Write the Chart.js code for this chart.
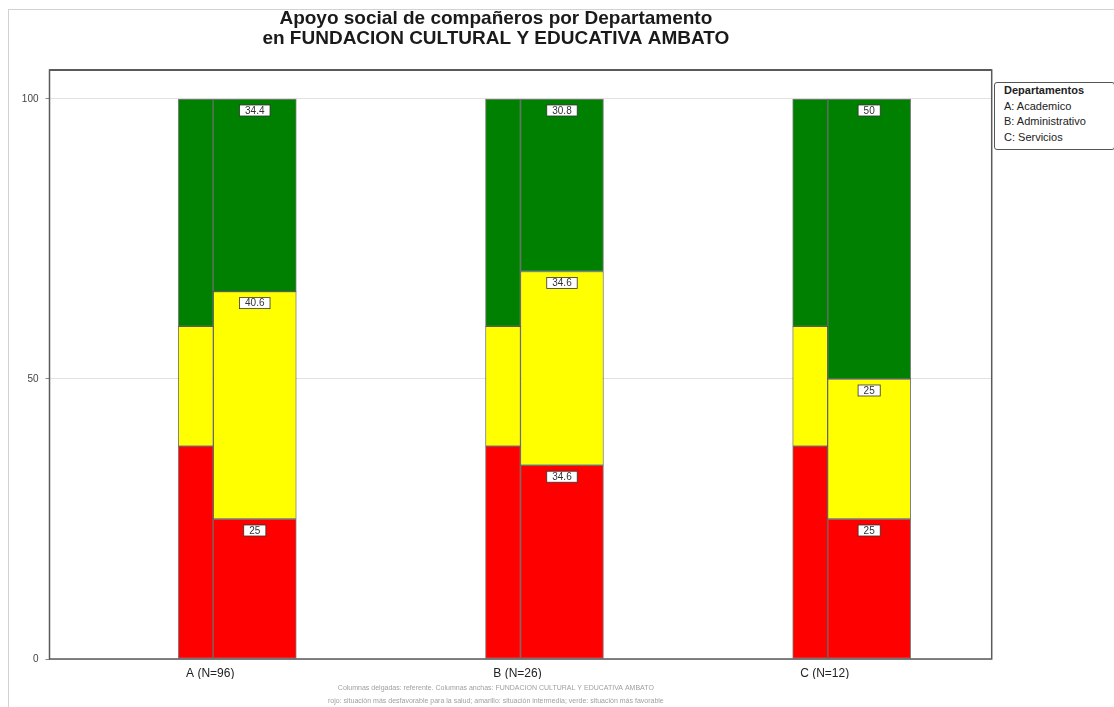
<!DOCTYPE html>
<html>
<head>
<meta charset="utf-8">
<script src="https://cdn.jsdelivr.net/npm/chart.js@4"></script>
<style>
  html, body { margin: 0; padding: 0; background: #fff; }
  body { width: 1114px; height: 707px; position: relative; overflow: hidden; font-family: "Liberation Sans", Arial, sans-serif; }
  #frame { position: absolute; left: 8px; top: 9px; width: 1200px; height: 800px; border-left: 1px solid #d2d2d2; border-top: 1px solid #d2d2d2; }
  #wrap { position: absolute; left: 0; top: 0; width: 996px; height: 707px; }
  #legend { position: absolute; left: 994px; top: 82px; width: 110px; height: 66px; border: 1px solid #555; border-radius: 3px; background: #fff; padding: 0 0 0 9px; font-size: 11px; line-height: 15.5px; color: #222; }
  #legend .t { font-weight: bold; }
</style>
</head>
<body>
<div id="frame"></div>
<div id="wrap"><canvas id="c" width="996" height="707"></canvas></div>
<div id="legend">
  <div class="t">Departamentos</div>
  <div>A: Academico</div>
  <div>B: Administrativo</div>
  <div>C: Servicios</div>
</div>
<script>
// ---- data ----
const categories = ['A (N=96)', 'B (N=26)', 'C (N=12)'];
const refRed    = [38, 38, 38];
const refYellow = [21.4, 21.4, 21.4];
const refGreen  = [40.6, 40.6, 40.6];
const deptRed    = [25, 34.6, 25];
const deptYellow = [40.6, 34.6, 25];
const deptGreen  = [34.4, 30.8, 50];
const yTicks = [0, 50, 100];
const titleLines = ['Apoyo social de compañeros por Departamento', 'en FUNDACION CULTURAL Y EDUCATIVA AMBATO'];
const noteLines = [
  'Columnas delgadas: referente. Columnas anchas: FUNDACION CULTURAL Y EDUCATIVA AMBATO',
  'rojo: situación más desfavorable para la salud; amarillo: situación intermedia; verde: situación más favorable'
];

Chart.defaults.font.family = '"Liberation Sans", Arial, sans-serif';

const toPts = arr => arr.map((v, i) => ({ x: i + 1, y: v }));
const RED = '#ff0000', YEL = '#ffff00', GRN = '#008000';
const bw = 1, bc = 'rgba(0,0,0,0.5)';

function ds(label, arr, color, stack, thick) {
  return { label, data: toPts(arr), backgroundColor: color, borderColor: bc, borderWidth: bw,
           stack, barThickness: thick, borderSkipped: false };
}

const datasets = [
  ds('ref-red', refRed, RED, 'ref', 35),
  ds('ref-yellow', refYellow, YEL, 'ref', 35),
  ds('ref-green', refGreen, GRN, 'ref', 35),
  ds('dept-red', deptRed, RED, 'dept', 83),
  ds('dept-yellow', deptYellow, YEL, 'dept', 83),
  ds('dept-green', deptGreen, GRN, 'dept', 83)
];

const framePlugin = {
  id: 'frame',
  afterDatasetsDraw(chart) {
    const a = chart.chartArea, ctx = chart.ctx;
    ctx.save();
    ctx.strokeStyle = '#5a5a5a';
    ctx.lineWidth = 1.5;
    ctx.strokeRect(a.left, a.top, a.right - a.left, a.bottom - a.top);
    ctx.lineWidth = 2;
    ctx.beginPath(); ctx.moveTo(a.left, a.top); ctx.lineTo(a.right, a.top); ctx.stroke();
    ctx.restore();
  }
};

const valueLabels = {
  id: 'valueLabels',
  afterDatasetsDraw(chart) {
    const ctx = chart.ctx;
    ctx.save();
    ctx.font = '10px "Liberation Sans", Arial, sans-serif';
    ctx.textAlign = 'center';
    ctx.textBaseline = 'middle';
    chart.data.datasets.forEach((d, di) => {
      if (d.stack !== 'dept') return;
      const meta = chart.getDatasetMeta(di);
      meta.data.forEach((el, i) => {
        const txt = String(d.data[i].y);
        const w = ctx.measureText(txt).width + 11, h = 11;
        const cx = el.x, cy = el.y + 11.5;
        ctx.fillStyle = '#fff';
        ctx.fillRect(cx - w / 2, cy - h / 2, w, h);
        ctx.strokeStyle = '#333';
        ctx.lineWidth = 0.8;
        ctx.strokeRect(cx - w / 2, cy - h / 2, w, h);
        ctx.fillStyle = '#333';
        ctx.fillText(txt, cx, cy + 0.5);
      });
    });
    ctx.restore();
  }
};

new Chart(document.getElementById('c'), {
  type: 'bar',
  data: { datasets },
  options: {
    responsive: false,
    animation: false,
    layout: { padding: { left: 0, right: 4.3, top: 0, bottom: 0 } },
    plugins: {
      legend: { display: false },
      tooltip: { enabled: false },
      title: {
        display: true, text: titleLines, color: '#1a1a1a',
        font: { size: 19, weight: 'bold', lineHeight: 1.06 },
        padding: { top: 9, bottom: 20.7 }
      },
      subtitle: {
        display: true, position: 'bottom', text: noteLines, color: '#a0a0a0',
        font: { size: 7, lineHeight: 1.8 },
        padding: { top: 2.8, bottom: 0 }
      }
    },
    scales: {
      x: {
        type: 'linear', min: 0.4668, max: 3.534, offset: false,
        grid: { display: false, offset: false, drawTicks: false },
        border: { display: false },
        afterBuildTicks: s => { s.ticks = categories.map((c, i) => ({ value: i + 1 })); },
        afterFit: s => { s.height = 20; },
        ticks: {
          callback: (v) => categories[Math.round(v) - 1],
          color: '#222', font: { size: 12 }, padding: 7, labelOffset: -3,
          maxRotation: 0, autoSkip: false
        }
      },
      y: {
        stacked: true, min: 0, max: 105.18,
        afterBuildTicks: s => { s.ticks = yTicks.map(v => ({ value: v })); },
        afterFit: s => { s.width = 49.5; },
        grid: { color: '#e2e2e2', lineWidth: 1, tickLength: 4, tickColor: '#888', drawTicks: true },
        border: { display: false },
        ticks: { color: '#444', font: { size: 10 }, padding: 7 }
      }
    }
  },
  plugins: [framePlugin, valueLabels]
});
</script>
</body>
</html>
